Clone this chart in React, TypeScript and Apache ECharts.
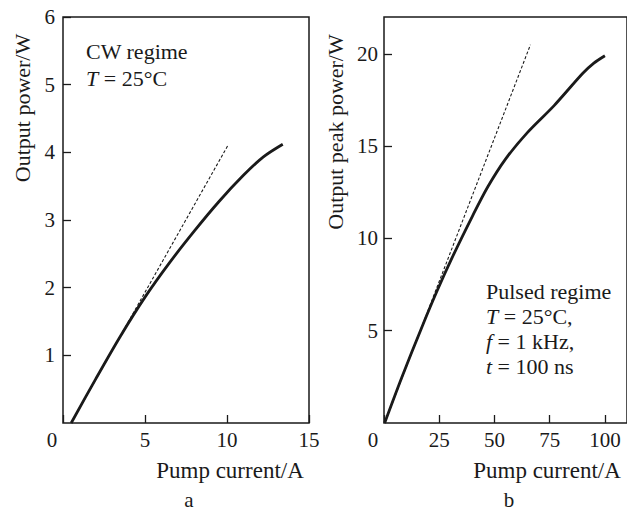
import React, { useEffect, useRef } from 'react';
import * as echarts from 'echarts';

const FONT = 'Liberation Serif, DejaVu Serif, serif';
const INK = '#1a1a1a';

// Panel a: CW regime
const cwCurrent = [0.5, 2, 3.5, 5, 6.5, 8, 9.5, 11, 12.2, 13.4];
const cwPower = [0, 0.653, 1.283, 1.86, 2.37, 2.835, 3.27, 3.66, 3.93, 4.12];
const cwTangentCurrent = [0.5, 10.05];
const cwTangentPower = [0, 4.1];

// Panel b: pulsed regime
const pulsedCurrent = [0.3, 8, 17, 24, 31, 40, 47, 55, 65, 77, 90, 95, 100];
const pulsedPower = [0, 2.45, 5.15, 7.15, 9.0, 11.2, 12.8, 14.3, 15.75, 17.2, 18.95, 19.5, 19.9];
const pulsedTangentCurrent = [0.3, 66.3];
const pulsedTangentPower = [0, 20.5];

// Axis ranges / tick steps
const cwXAxis = { min: 0, max: 15, interval: 5 };
const cwYAxis = { min: 0, max: 6, interval: 1 };
const pulsedXAxis = { min: 0, max: 110, interval: 25 };
const pulsedYAxis = { min: 0, max: 22, interval: 5 };

const zip = (xs: number[], ys: number[]) => xs.map((x, i) => [x, ys[i]]);

export default function App() {
  const ref = useRef<HTMLDivElement>(null);
  useEffect(() => {
    if (!ref.current) return;
    const chart = echarts.init(ref.current, null, { renderer: 'svg' });
    const tickLabel = { fontFamily: FONT, fontSize: 21, color: INK };
    const xLabel = {
      ...tickLabel,
      margin: 6,
      formatter: (v: number) => (v === 0 ? '{z|0}' : String(v)),
      rich: { z: { fontFamily: FONT, fontSize: 21, color: INK, padding: [0, 22, 0, 0] } },
    };
    const axisCommon = {
      type: 'value' as const,
      splitLine: { show: false },
      axisLine: { show: false },
      axisTick: { show: true, inside: true, length: 8, lineStyle: { color: INK, width: 1.3 } },
    };
    const textCommon = { fontFamily: FONT, fill: INK };
    chart.setOption({
      animation: false,
      backgroundColor: '#ffffff',
      grid: [
        { left: 63, top: 17, width: 246, height: 406, show: true, borderColor: INK, borderWidth: 1.5, backgroundColor: 'transparent' },
        { left: 384, top: 17, width: 247, height: 406, show: true, borderColor: INK, borderWidth: 1.5, backgroundColor: 'transparent' },
      ],
      xAxis: [
        { ...axisCommon, gridIndex: 0, ...cwXAxis, axisLabel: { ...xLabel } },
        { ...axisCommon, gridIndex: 1, ...pulsedXAxis, axisLabel: { ...xLabel, showMaxLabel: false } },
      ],
      yAxis: [
        { ...axisCommon, gridIndex: 0, ...cwYAxis, axisLabel: { ...tickLabel, margin: 8, showMinLabel: false } },
        { ...axisCommon, gridIndex: 1, ...pulsedYAxis, axisLabel: { ...tickLabel, margin: 6, showMinLabel: false, showMaxLabel: false } },
      ],
      series: [
        {
          type: 'line', xAxisIndex: 0, yAxisIndex: 0, data: zip(cwCurrent, cwPower),
          symbol: 'none', smooth: 0.3, lineStyle: { color: INK, width: 2.8 },
        },
        {
          type: 'line', xAxisIndex: 0, yAxisIndex: 0, data: zip(cwTangentCurrent, cwTangentPower),
          symbol: 'none', lineStyle: { color: INK, width: 1.1, type: [3, 2] },
        },
        {
          type: 'line', xAxisIndex: 1, yAxisIndex: 1, data: zip(pulsedCurrent, pulsedPower),
          symbol: 'none', smooth: 0.3, lineStyle: { color: INK, width: 2.8 },
        },
        {
          type: 'line', xAxisIndex: 1, yAxisIndex: 1, data: zip(pulsedTangentCurrent, pulsedTangentPower),
          symbol: 'none', lineStyle: { color: INK, width: 1.1, type: [3, 2] },
        },
      ],
      graphic: [
        { type: 'text', x: 22, y: 108, rotation: Math.PI / 2, style: { ...textCommon, text: 'Output power/W', fontSize: 22, align: 'center', verticalAlign: 'middle' } },
        { type: 'text', x: 335, y: 132, rotation: Math.PI / 2, style: { ...textCommon, text: 'Output peak power/W', fontSize: 22, align: 'center', verticalAlign: 'middle' } },
        { type: 'text', x: 230, y: 470, style: { ...textCommon, text: 'Pump current/A', fontSize: 23, align: 'center', verticalAlign: 'middle' } },
        { type: 'text', x: 547, y: 470, style: { ...textCommon, text: 'Pump current/A', fontSize: 23, align: 'center', verticalAlign: 'middle' } },
        { type: 'text', x: 189, y: 500, style: { ...textCommon, text: 'a', fontSize: 21, align: 'center', verticalAlign: 'middle' } },
        { type: 'text', x: 509, y: 500, style: { ...textCommon, text: 'b', fontSize: 21, align: 'center', verticalAlign: 'middle' } },
        {
          type: 'text', x: 86, y: 38,
          style: {
            ...textCommon, fontSize: 22, lineHeight: 27, align: 'left', verticalAlign: 'top',
            text: 'CW regime\n{i|T} = 25°C',
            rich: { i: { fontFamily: FONT, fontSize: 22, fontStyle: 'italic', fill: INK } },
          },
        },
        {
          type: 'text', x: 486, y: 279,
          style: {
            ...textCommon, fontSize: 22, lineHeight: 25, align: 'left', verticalAlign: 'top',
            text: 'Pulsed regime\n{i|T} = 25°C,\n{i|f} = 1 kHz,\n{i|t} = 100 ns',
            rich: { i: { fontFamily: FONT, fontSize: 22, fontStyle: 'italic', fill: INK } },
          },
        },
      ],
    });
    return () => chart.dispose();
  }, []);
  return (
    <div
      ref={ref}
      style={{ position: 'fixed', left: 0, top: 0, width: 627, height: 512, background: '#fff' }}
    />
  );
}
